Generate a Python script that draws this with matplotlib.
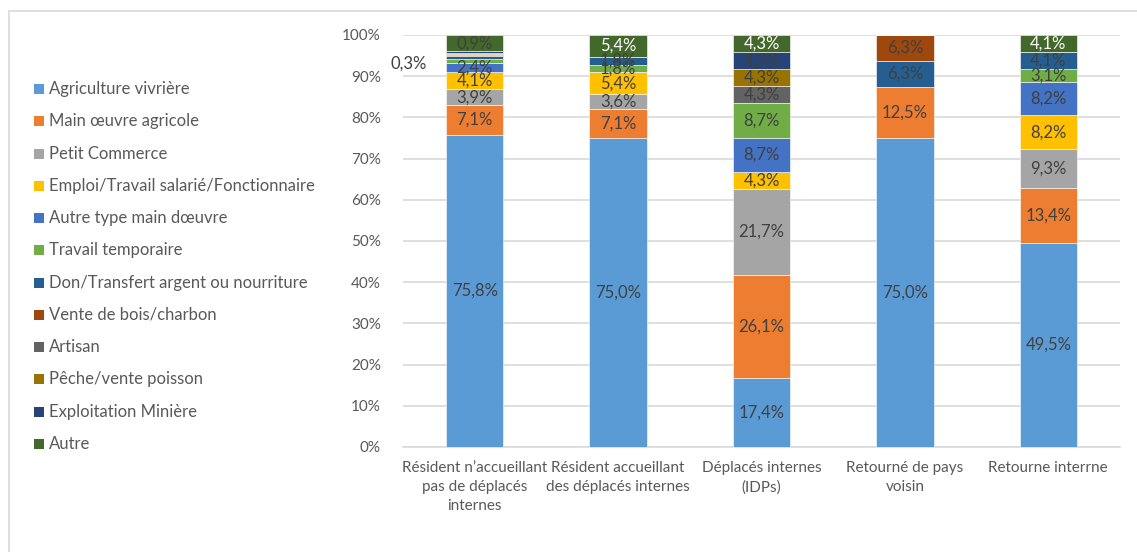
import matplotlib.pyplot as plt
from matplotlib.patches import Rectangle
import numpy as np

plt.rcParams['font.family'] = ['Lato', 'DejaVu Sans']

categories = ["Résident n’accueillant\npas de déplacés\ninternes",
              "Résident accueillant\ndes déplacés internes",
              "Déplacés internes\n(IDPs)",
              "Retourné de pays\nvoisin",
              "Retourne interrne"]

series = ["Agriculture vivrière", "Main œuvre agricole", "Petit Commerce",
          "Emploi/Travail salarié/Fonctionnaire", "Autre type main dœuvre",
          "Travail temporaire", "Don/Transfert argent ou nourriture",
          "Vente de bois/charbon", "Artisan", "Pêche/vente poisson",
          "Exploitation Minière", "Autre"]

agriculture = [75.8, 75.0, 17.4, 75.0, 49.5]
main_oeuvre = [7.1, 7.1, 26.1, 12.5, 13.4]
petit_commerce = [3.9, 3.6, 21.7, 0, 9.3]
emploi = [4.1, 5.4, 4.3, 0, 8.2]
autre_type = [2.4, 0, 8.7, 0, 8.2]
travail_temp = [0.9, 1.8, 8.7, 0, 3.1]
don_transfert = [0.6, 1.8, 0, 6.3, 4.1]
vente_bois = [0.3, 0, 0, 6.3, 0]
artisan = [0.3, 0, 4.3, 0, 0]
peche = [0.3, 0, 4.3, 0, 0]
exploitation = [0.3, 0, 4.3, 0, 0]
autre = [4.0, 5.4, 4.3, 0, 4.1]

colors = ['#5B9BD5', '#ED7D31', '#A5A5A5', '#FFC000', '#4472C4', '#70AD47',
          '#255E91', '#9E480E', '#636363', '#997300', '#264478', '#43682B']

data = np.array([agriculture, main_oeuvre, petit_commerce, emploi, autre_type,
                 travail_temp, don_transfert, vente_bois, artisan, peche,
                 exploitation, autre])

# labels as printed on the chart for the first bar
hidden_labels = {(5, 0), (6, 0), (7, 0), (8, 0), (9, 0), (10, 0)}
label_text = {(11, 0): "0,9%"}
outside_label = "0,3%"

pct = data / data.sum(axis=0) * 100

W, H = 1137, 552
fig = plt.figure(figsize=(W / 100, H / 100), dpi=100)
ax = fig.add_axes([403 / W, 105 / H, 717 / W, 412 / H])

x = np.arange(len(categories))
bottom = np.zeros(len(categories))
for i, name in enumerate(series):
    ax.bar(x, pct[i], 0.4, bottom=bottom, color=colors[i], label=name,
           edgecolor='white', linewidth=0.4, zorder=3)
    for j in range(len(categories)):
        if data[i, j] == 0 or (i, j) in hidden_labels:
            continue
        txt = label_text.get((i, j), f"{data[i, j]:.1f}%".replace('.', ','))
        col = 'white' if (i == 11 and j != 0) else '#404040'
        ax.text(x[j], bottom[j] + pct[i, j] / 2, txt, ha='center', va='center',
                fontsize=12, color=col, zorder=4)
    bottom += pct[i]

ax.text(x[0] - 0.335, 93.0, outside_label, ha='right', va='center',
        fontsize=12, color='#404040')

ax.set_xlim(-0.5, len(categories) - 0.5)
ax.set_ylim(0, 100)
ax.set_yticks(np.arange(0, 101, 10))
ax.set_yticklabels([f"{v}%" for v in range(0, 101, 10)])
ax.set_xticks(x)
ax.set_xticklabels(categories, linespacing=1.45)
ax.tick_params(length=0, labelsize=11, labelcolor='#595959')
ax.tick_params(axis='y', pad=16)
ax.tick_params(axis='x', pad=10)
ax.grid(axis='y', color='#D9D9D9', linewidth=1.2, zorder=0)
for s in ['top', 'right', 'left']:
    ax.spines[s].set_visible(False)
ax.spines['bottom'].set_color('#D9D9D9')
ax.spines['bottom'].set_linewidth(1.2)

# legend on the left, one row per series
for i, name in enumerate(series):
    yc = 89 + i * 32.27
    fig.add_artist(Rectangle((34 / W, 1 - (yc + 5) / H), 10 / W, 10 / H,
                             transform=fig.transFigure, facecolor=colors[i],
                             edgecolor='none'))
    fig.text(49 / W, 1 - yc / H, name, ha='left', va='center',
             fontsize=12, color='#595959')

fig.add_artist(Rectangle((9 / W, -0.05), 1.2, 1.05 - 11 / H,
                         transform=fig.transFigure, fill=False,
                         edgecolor='#D9D9D9', linewidth=1.2))

fig.savefig('out.png', dpi=100)
